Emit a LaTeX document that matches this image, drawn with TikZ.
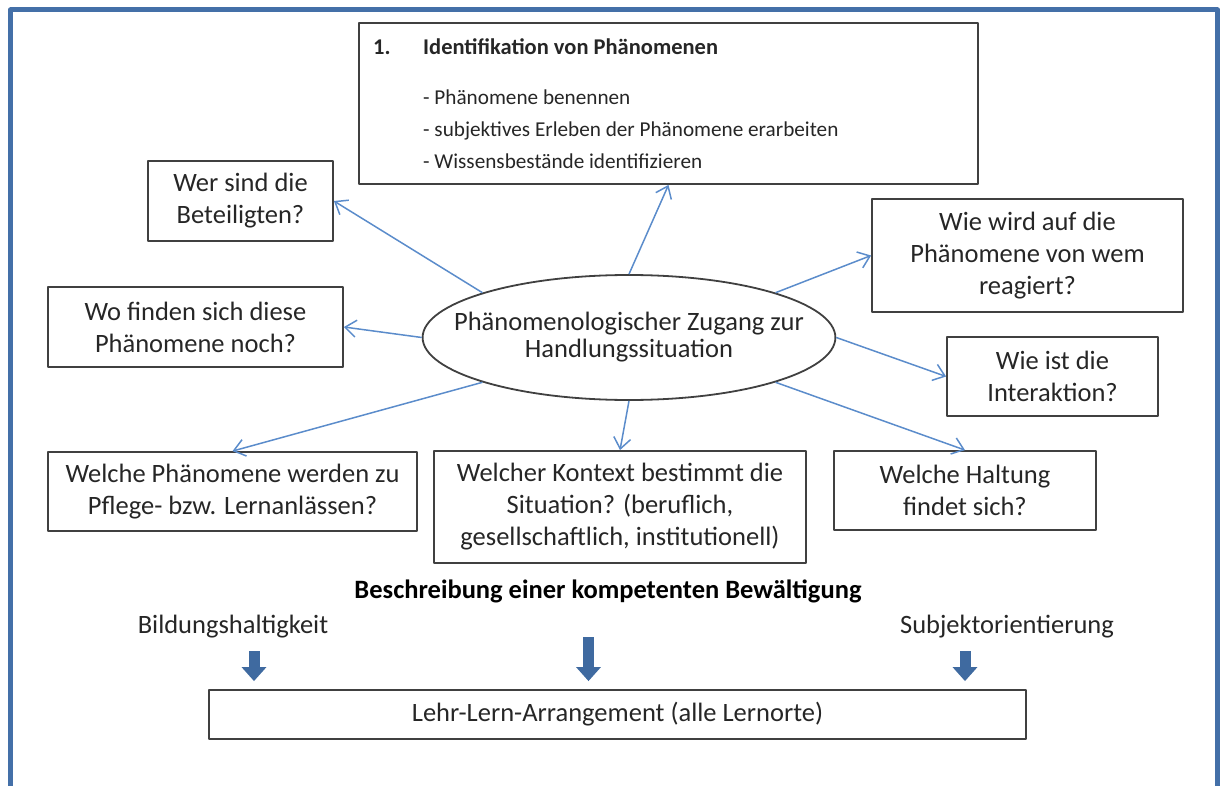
\documentclass[tikz,border=0pt]{standalone}
\usepackage{fontspec}
\setmainfont{Carlito}
\usetikzlibrary{arrows.meta,shapes.geometric}
\definecolor{rahmen}{HTML}{4470A8}
\definecolor{pfeil}{HTML}{5B8CCB}
\definecolor{block}{HTML}{3F6AA0}
\begin{document}
\begin{tikzpicture}[x=1pt,y=-1pt, font=\fontsize{26.5}{32}\selectfont, line join=round,
	kasten/.style={draw=black!75,line width=1.8pt,inner sep=0pt,align=center,text=black!85},
	klein/.style={anchor=base west,text=black!85,inner xsep=0pt,font=\fontsize{22.5}{32}\selectfont},
	pf/.style={draw=pfeil,line width=1.5pt,-{Straight Barb[length=11pt,width=17pt]}},
	dick/.style={draw=block,line width=11pt,-{Triangle[length=14pt,width=24pt]},shorten >=8pt}]
	\useasboundingbox (0,0) rectangle (1223,786);
	% Rahmen
	\draw[rahmen,line width=5pt] (10.5,800)--(10.5,10)--(1217.5,10)--(1217.5,800);
	
	% Kasten 1
	\node[kasten,minimum width=619,minimum height=161] (ident) at (668.5,103.5) {};
	\node[klein] (nr) at (373,55) {\textbf{1.}};
	\node[klein] (titel) at (423,55) {\textbf{Identifikation von Phänomenen}};
	\foreach \t [count=\i] in {Phänomene benennen,subjektives Erleben der Phänomene erarbeiten,Wissensbestände identifizieren}
		\node[klein,font=\fontsize{21.2}{32}\selectfont] (b\i) at (423,{105+32*(\i-1)}) {- \t};
	
	% Mitte
	\node[kasten,ellipse,inner xsep=-29pt,minimum width=412,minimum height=125,font=\fontsize{26.5}{27}\selectfont] (ell) at (629,337.5)
		{Phänomenologischer Zugang zur\\Handlungssituation};
	
	% Fragen
	\node[kasten,minimum width=185,minimum height=80] (wer) at (240.5,201) {Wer sind die\\Beteiligten?};
	\node[kasten,minimum width=311,minimum height=113] (wiewird) at (1027.5,255.5) {Wie wird auf die\\Phänomene von wem\\reagiert?};
	\node[kasten,minimum width=295,minimum height=80] (wo) at (195.5,327) {Wo finden sich diese\\Phänomene noch?};
	\node[kasten,minimum width=211,minimum height=79] (wieist) at (1052.5,376.5) {Wie ist die\\Interaktion?};
	\node[kasten,minimum width=369,minimum height=79] (welche) at (232.5,491.5) {Welche Phänomene werden zu\\Pflege- bzw. Lernanlässen?};
	\node[kasten,minimum width=372,minimum height=112] (kontext) at (620,507) {Welcher Kontext bestimmt die\\Situation? (beruflich,\\gesellschaftlich, institutionell)};
	\node[kasten,minimum width=262,minimum height=79] (haltung) at (965,490.5) {Welche Haltung\\findet sich?};
	
	\draw[pf] (ell.north)--(ident.south);
	\draw[pf] (ell.163)--(wer.east);
	\draw[pf] (ell.17)--(wiewird.west);
	\draw[pf] (ell.west)--(wo.east);
	\draw[pf] (ell.east)--(wieist.west);
	\draw[pf] (ell.197)--(welche.north);
	\draw[pf] (ell.south)--(kontext.north);
	\draw[pf] (ell.-17)--(haltung.north);
	
	% unten
	\node[anchor=base,text=black] (beschr) at (608,598) {\textbf{Beschreibung einer kompetenten Bewältigung}};
	\node[anchor=base,text=black!85] (bild) at (233,633) {Bildungshaltigkeit};
	\node[anchor=base,text=black!85] (subj) at (1007,633) {Subjektorientierung};
	\node[kasten,minimum width=817,minimum height=49] (lehr) at (617.5,714.5) {Lehr-Lern-Arrangement (alle Lernorte)};
	
	\coordinate (a1) at (254,651);
	\coordinate (a2) at (588.5,637);
	\coordinate (a3) at (965,651);
	\foreach \p in {a1,a2,a3}
		\draw[dick] (\p)--(\p |- lehr.north);
\end{tikzpicture}
\end{document}
